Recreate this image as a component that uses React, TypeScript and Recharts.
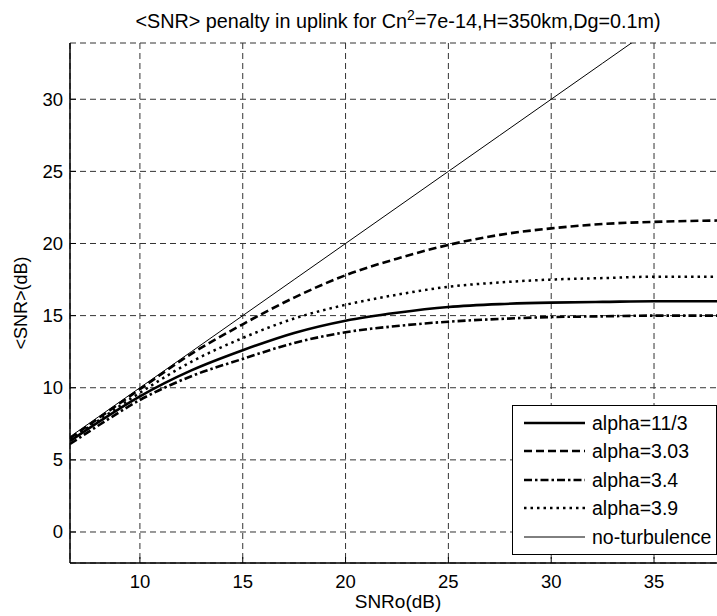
import React from "react";
import { LineChart, Line, XAxis, YAxis, CartesianGrid, Legend } from "recharts";

const snro = [6.6, 8, 10, 12.5, 15, 17.5, 20, 22.5, 25, 27.5, 30, 32.5, 35, 38.5];
const alpha113 = [6.3, 7.63, 9.4, 11.2, 12.6, 13.8, 14.65, 15.2, 15.6, 15.8, 15.9, 15.95, 16.0, 16.0];
const alpha303 = [6.5, 7.9, 9.9, 12.35, 14.4, 16.25, 17.8, 18.95, 19.9, 20.6, 21.05, 21.35, 21.5, 21.6];
const alpha34 = [6.1, 7.4, 9.15, 10.8, 12.0, 13.1, 13.85, 14.28, 14.58, 14.77, 14.9, 14.95, 15.0, 15.0];
const alpha39 = [6.4, 7.75, 9.65, 11.8, 13.45, 14.8, 15.75, 16.45, 17.0, 17.3, 17.5, 17.6, 17.7, 17.7];
const noTurb = [6.6, 8, 10, 12.5, 15, 17.5, 20, 22.5, 25, 27.5, 30, 32.5, 35, 38.5];

const xTicks = [10, 15, 20, 25, 30, 35];
const yTicks = [0, 5, 10, 15, 20, 25, 30];
const xDomain = [6.6, 38.5];
const yDomain = [-2.15, 33.9];

const series = [
  { key: "a113", name: "alpha=11/3", width: 2.6, dash: undefined as string | undefined },
  { key: "a303", name: "alpha=3.03", width: 2.6, dash: "8 4" },
  { key: "a34", name: "alpha=3.4", width: 2.6, dash: "8 3 2.5 3" },
  { key: "a39", name: "alpha=3.9", width: 2.5, dash: "2.5 4" },
  { key: "none", name: "no-turbulence", width: 1, dash: undefined as string | undefined },
];

const data = snro.map((x, i) => ({
  x,
  a113: alpha113[i],
  a303: alpha303[i],
  a34: alpha34[i],
  a39: alpha39[i],
  none: noTurb[i],
}));

const FONT = "'Liberation Sans', Arial, Helvetica, sans-serif";

const BottomTick = (props: any) => {
  const { x, y, payload } = props;
  return (
    <g>
      <line x1={x} x2={x} y1={y} y2={y - 6} stroke="#000" strokeWidth={1} />
      <text x={x} y={y + 25} textAnchor="middle" fontSize={18.5} fontFamily={FONT} fill="#000">
        {payload.value}
      </text>
    </g>
  );
};

const TopTick = (props: any) => {
  const { x, y } = props;
  return <line x1={x} x2={x} y1={y} y2={y + 6} stroke="#000" strokeWidth={1} />;
};

const LeftTick = (props: any) => {
  const { x, y, payload } = props;
  return (
    <g>
      <line x1={x} x2={x + 6} y1={y} y2={y} stroke="#000" strokeWidth={1} />
      <text x={x - 7} y={y + 6.5} textAnchor="end" fontSize={18.5} fontFamily={FONT} fill="#000">
        {payload.value}
      </text>
    </g>
  );
};

const LegendBox = () => (
  <div
    style={{
      boxSizing: "border-box",
      width: 205,
      height: 150,
      border: "1px solid #000",
      background: "#fff",
      fontFamily: FONT,
      fontSize: 19.5,
      position: "relative",
    }}
  >
    {series.map((s, i) => (
      <div
        key={s.key}
        style={{ position: "absolute", left: 0, top: 17 + i * 28.4 - 14, height: 28, width: 203 }}
      >
        <svg width={75} height={28} style={{ position: "absolute", left: 0, top: 0 }}>
          <line
            x1={11}
            x2={72}
            y1={14}
            y2={14}
            stroke="#000"
            strokeWidth={s.width}
            strokeDasharray={s.dash}
          />
        </svg>
        <span style={{ position: "absolute", left: 79, top: 3, lineHeight: "22px", color: "#000" }}>
          {s.name}
        </span>
      </div>
    ))}
  </div>
);

export default function App() {
  return (
    <div
      style={{
        position: "absolute",
        left: 0,
        top: 0,
        width: 717,
        height: 616,
        overflow: "hidden",
        background: "#fff",
        fontFamily: FONT,
      }}
    >
      <div
        style={{
          position: "absolute",
          left: 0,
          width: 796,
          top: 7,
          textAlign: "center",
          fontSize: 19.8,
          color: "#000",
          whiteSpace: "nowrap",
        }}
      >
        {"<SNR> penalty in uplink for Cn"}
        <sup style={{ fontSize: 14 }}>2</sup>
        {"=7e-14,H=350km,Dg=0.1m)"}
      </div>
      <div
        style={{
          position: "absolute",
          left: 0,
          top: 0,
          width: 740,
          height: 616,
        }}
      >
        <LineChart
          width={740}
          height={616}
          data={data}
          margin={{ top: 43, right: 14, bottom: 0, left: 0 }}
        >
          <CartesianGrid stroke="#333" strokeDasharray="6 4" strokeWidth={1} />
          <XAxis
            dataKey="x"
            type="number"
            domain={xDomain}
            ticks={xTicks}
            allowDataOverflow
            height={53}
            tickSize={0}
            tickMargin={0}
            tickLine={false}
            tick={<BottomTick />}
            axisLine={{ stroke: "#000", strokeWidth: 1.5 }}
            interval={0}
          />
          <XAxis
            xAxisId="top"
            orientation="top"
            dataKey="x"
            type="number"
            domain={xDomain}
            ticks={xTicks}
            allowDataOverflow
            height={0}
            tickSize={0}
            tickMargin={0}
            tickLine={false}
            tick={<TopTick />}
            axisLine={{ stroke: "#000", strokeWidth: 1.5 }}
            interval={0}
          />
          <YAxis
            type="number"
            domain={yDomain}
            ticks={yTicks}
            allowDataOverflow
            width={70}
            tickSize={0}
            tickMargin={0}
            tickLine={false}
            tick={<LeftTick />}
            axisLine={{ stroke: "#000", strokeWidth: 1.5 }}
            interval={0}
            label={{
              value: "<SNR>(dB)",
              angle: -90,
              position: "insideLeft",
              dx: 16,
              dy: 0,
              style: { textAnchor: "middle", fontSize: 18, fontFamily: FONT, fill: "#000" },
            }}
          />
          <Legend
            layout="vertical"
            align="center"
            verticalAlign="middle"
            wrapperStyle={{ position: "absolute", left: 512, top: 405, width: 205, height: 150 }}
            content={() => <LegendBox />}
          />
          {series.map((s) => (
            <Line
              key={s.key}
              dataKey={s.key}
              name={s.name}
              type="monotone"
              stroke="#000"
              strokeWidth={s.width}
              strokeDasharray={s.dash}
              dot={false}
              activeDot={false}
              isAnimationActive={false}
            />
          ))}
        </LineChart>
      </div>
      <div
        style={{
          position: "absolute",
          left: 0,
          width: 796,
          top: 591,
          textAlign: "center",
          fontSize: 19,
          color: "#000",
        }}
      >
        SNRo(dB)
      </div>
    </div>
  );
}
